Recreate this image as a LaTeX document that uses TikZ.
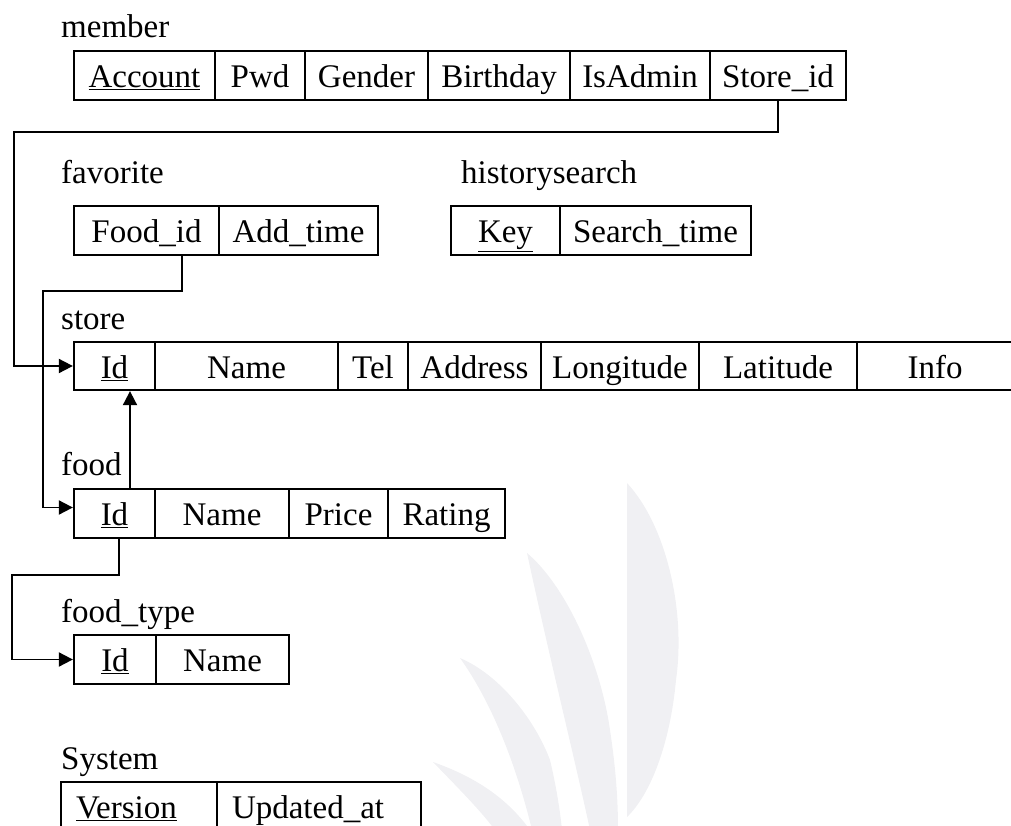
\documentclass[tikz,border=0pt]{standalone}
\usepackage{fontspec}
\setmainfont{Liberation Serif}
\usetikzlibrary{arrows.meta}
\definecolor{wm}{RGB}{240,240,243}

% one table cell: name, left x, right x, top y, height, text
\newcommand\tcell[6]{%
  \node[cell, minimum width={#3-#2}, minimum height={#5}] (#1)
    at ({(#2+#3)/2},{#4+#5/2}) {#6};}

\begin{document}
\begin{tikzpicture}[x=1pt,y=-1pt,
  every node/.style={font=\fontsize{33}{39}\selectfont},
  cell/.style={draw, line width=2.3pt, inner sep=0pt, text height=24pt,
    text depth=0pt, align=center},
  lcell/.style={cell, align=left},
  tname/.style={anchor=base west, inner sep=0pt},
  conn/.style={line width=1.9pt},
  link/.style={conn, -{Triangle[length=14pt,width=14pt]}},
  leaf/.style={fill=wm, draw=none}]
\useasboundingbox (0,0) rectangle (1011,826);

% faint leaf emblem in the background
\fill[wm] (627,483) .. controls (666,525) and (686,610) .. (676,680)
  .. controls (670,745) and (650,795) .. (627,817) -- cycle;
\fill[wm] (527,553) .. controls (565,585) and (600,660) .. (610,730)
  .. controls (616,770) and (618,800) .. (618,830) -- (590,830)
  .. controls (575,760) and (550,660) .. cycle;
\fill[wm] (460,658) .. controls (500,675) and (535,720) .. (550,760)
  .. controls (556,785) and (560,810) .. (562,830) -- (532,830)
  .. controls (515,760) and (490,700) .. cycle;
\fill[wm] (433,762) .. controls (470,775) and (505,795) .. (530,830)
  -- (495,830) .. controls (480,810) and (460,790) .. cycle;

% member
\node[tname] (tmember) at (61,38) {member};
\tcell{m1}{74}{215}{51}{49}{\underline{Account}}
\tcell{m2}{215}{305}{51}{49}{Pwd}
\tcell{m3}{305}{428}{51}{49}{Gender}
\tcell{m4}{428}{570}{51}{49}{Birthday}
\tcell{m5}{570}{710}{51}{49}{IsAdmin}
\tcell{m6}{710}{846}{51}{49}{Store\_id}

% favorite
\node[tname] (tfav) at (61,184) {favorite};
\tcell{f1}{74}{219}{206}{49}{Food\_id}
\tcell{f2}{219}{378}{206}{49}{Add\_time}

% historysearch
\node[tname] (thist) at (461,184) {historysearch};
\tcell{h1}{451}{560}{206}{49}{\underline{Key}}
\tcell{h2}{560}{751}{206}{49}{Search\_time}

% store
\node[tname] (tstore) at (61,329) {store};
\tcell{s1}{74}{155}{342}{48}{\underline{Id}}
\tcell{s2}{155}{338}{342}{48}{Name}
\tcell{s3}{338}{408}{342}{48}{Tel}
\tcell{s4}{408}{541}{342}{48}{Address}
\tcell{s5}{541}{699}{342}{48}{Longitude}
\tcell{s6}{699}{857}{342}{48}{Latitude}
\tcell{s7}{857}{1013}{342}{48}{Info}

% food
\node[tname] (tfood) at (61,475) {food};
\tcell{d1}{74}{155}{489}{49}{\underline{Id}}
\tcell{d2}{155}{289}{489}{49}{Name}
\tcell{d3}{289}{388}{489}{49}{Price}
\tcell{d4}{388}{505}{489}{49}{Rating}

% food_type
\node[tname] (ttype) at (61,622) {food\_type};
\tcell{t1}{74}{156}{635}{49}{\underline{Id}}
\tcell{t2}{156}{289}{635}{49}{Name}

% System
\node[tname] (tsys) at (61,769) {System};
\node[lcell, minimum width=156pt, minimum height=49pt, text width=126pt]
  (y1) at (139,806.5) {\underline{Version}};
\node[lcell, minimum width=204pt, minimum height=49pt, text width=174pt]
  (y2) at (319,806.5) {Updated\_at};

% references between tables
\coordinate (jA) at (14,132);
\draw[link] (m6.south) |- (jA) |- (s1.west);

\coordinate (jB) at (43,291);
\draw[link] ([xshift=35.5pt]f1.south) |- (jB) |- ([yshift=6pt]d1.west);

\draw[link] ([xshift=15.5pt]d1.north) -- ([xshift=15.5pt]s1.south);

\coordinate (jC) at (12,575);
\draw[link] ([xshift=4.5pt]d1.south) |- (jC) |- (t1.west);
\end{tikzpicture}
\end{document}
